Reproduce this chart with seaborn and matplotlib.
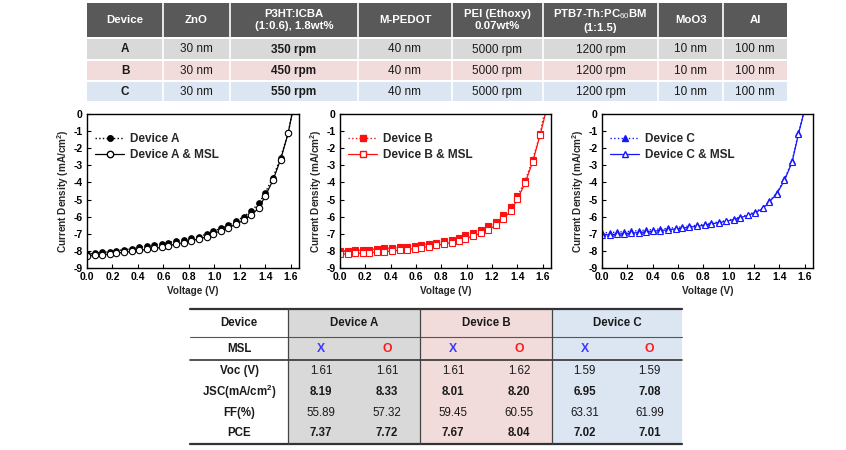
import matplotlib
matplotlib.use("Agg")
import matplotlib.pyplot as plt
import seaborn as sns
from matplotlib.patches import Rectangle
from matplotlib.lines import Line2D

# ---------------- data ----------------
top_headers = ["Device", "ZnO", "P3HT:ICBA\n(1:0.6), 1.8wt%", "M-PEDOT",
               "PEI (Ethoxy)\n0.07wt%", "PTB7-Th:PC$_{60}$BM\n(1:1.5)", "MoO3", "Al"]
top_devices = ["A", "B", "C"]
top_zno = ["30 nm", "30 nm", "30 nm"]
top_p3ht = ["350 rpm", "450 rpm", "550 rpm"]
top_mpedot = ["40 nm", "40 nm", "40 nm"]
top_pei = ["5000 rpm", "5000 rpm", "5000 rpm"]
top_ptb7 = ["1200 rpm", "1200 rpm", "1200 rpm"]
top_moo3 = ["10 nm", "10 nm", "10 nm"]
top_al = ["100 nm", "100 nm", "100 nm"]

bt_devices = ["Device A", "Device B", "Device C"]
bt_msl = ["X", "O", "X", "O", "X", "O"]
bt_rowlabels = ["Voc (V)", "JSC(mA/cm$^{\\mathbf{2}}$)", "FF(%)", "PCE"]
bt_voc = ["1.61", "1.61", "1.61", "1.62", "1.59", "1.59"]
bt_jsc = ["8.19", "8.33", "8.01", "8.20", "6.95", "7.08"]
bt_ff = ["55.89", "57.32", "59.45", "60.55", "63.31", "61.99"]
bt_pce = ["7.37", "7.72", "7.67", "8.04", "7.02", "7.01"]

v_ab = [0.00, 0.06, 0.12, 0.18, 0.23, 0.29, 0.35, 0.41, 0.47, 0.53, 0.59, 0.64, 0.70, 0.76,
        0.82, 0.88, 0.94, 0.99, 1.05, 1.11, 1.17, 1.23, 1.29, 1.35, 1.40, 1.46, 1.52, 1.58]
v_c = [0.00, 0.06, 0.12, 0.17, 0.23, 0.29, 0.35, 0.40, 0.46, 0.52, 0.58, 0.63, 0.69, 0.75,
       0.81, 0.86, 0.92, 0.98, 1.04, 1.09, 1.15, 1.21, 1.27, 1.32, 1.38, 1.44, 1.50, 1.55]

j_a = [-8.19, -8.15, -8.09, -8.05, -7.99, -7.93, -7.88, -7.80, -7.72, -7.64, -7.58, -7.51, -7.43, -7.35,
       -7.27, -7.16, -7.02, -6.85, -6.69, -6.50, -6.26, -6.01, -5.66, -5.23, -4.59, -3.72, -2.57, -1.10]
j_a_msl = [-8.31, -8.26, -8.22, -8.19, -8.13, -8.09, -8.03, -7.97, -7.91, -7.86, -7.78, -7.70, -7.60, -7.51,
           -7.41, -7.29, -7.18, -7.00, -6.83, -6.65, -6.44, -6.21, -5.91, -5.49, -4.79, -3.88, -2.67, -1.12]
j_b = [-8.01, -7.99, -7.97, -7.95, -7.92, -7.89, -7.86, -7.83, -7.79, -7.75, -7.70, -7.64, -7.58, -7.51,
       -7.43, -7.34, -7.23, -7.10, -6.96, -6.79, -6.57, -6.30, -5.93, -5.45, -4.80, -3.92, -2.68, -1.15]
j_b_msl = [-8.20, -8.17, -8.15, -8.13, -8.10, -8.07, -8.04, -8.00, -7.96, -7.92, -7.87, -7.81, -7.75, -7.68,
           -7.60, -7.51, -7.40, -7.28, -7.14, -6.97, -6.77, -6.50, -6.13, -5.64, -4.97, -4.05, -2.80, -1.20]
j_c = [-6.95, -6.93, -6.90, -6.88, -6.85, -6.82, -6.79, -6.75, -6.72, -6.68, -6.64, -6.60, -6.55, -6.50,
       -6.44, -6.38, -6.31, -6.23, -6.13, -6.02, -5.88, -5.72, -5.48, -5.10, -4.60, -3.82, -2.75, -1.12]
j_c_msl = [-7.08, -7.05, -7.02, -6.99, -6.96, -6.93, -6.89, -6.85, -6.81, -6.77, -6.72, -6.67, -6.62, -6.56,
           -6.50, -6.43, -6.35, -6.27, -6.17, -6.06, -5.93, -5.76, -5.52, -5.15, -4.65, -3.88, -2.80, -1.18]
voc_a, voc_a_msl = 1.61, 1.61
voc_b, voc_b_msl = 1.61, 1.62
voc_c, voc_c_msl = 1.59, 1.59

x_ticks = [0.0, 0.2, 0.4, 0.6, 0.8, 1.0, 1.2, 1.4, 1.6]
y_ticks = [0, -1, -2, -3, -4, -5, -6, -7, -8, -9]

# ---------------- style ----------------
sns.set_theme(style="white")
plt.rcParams['font.family'] = ['Liberation Sans', 'DejaVu Sans']
plt.rcParams['axes.unicode_minus'] = False
plt.rcParams['mathtext.fontset'] = 'custom'
plt.rcParams['mathtext.rm'] = 'Liberation Sans'
plt.rcParams['mathtext.bf'] = 'Liberation Sans:bold'

W, H = 846, 450
fig = plt.figure(figsize=(W / 100, H / 100), dpi=100)
fig.patch.set_facecolor('white')

# ---------------- tables (pixel-coordinate overlay) ----------------
tab = fig.add_axes([0, 0, 1, 1])
tab.set_xlim(0, W)
tab.set_ylim(H, 0)
tab.axis('off')

# top table
tcol = [87, 163, 230, 358, 452, 543, 658, 723, 787]
hdr_top, hdr_bot = 3, 37
row_edges = [(39, 59), (61, 80), (82, 101)]
row_colors = ['#d9d9d9', '#f2dcdb', '#dce6f2']
tab.add_patch(Rectangle((tcol[0], hdr_top), tcol[-1] - tcol[0], hdr_bot - hdr_top,
                        facecolor='#595959', edgecolor='none', zorder=1))
for i, h in enumerate(top_headers):
    cx = (tcol[i] + tcol[i + 1]) / 2
    tab.text(cx, (hdr_top + hdr_bot) / 2, h, ha='center', va='center', color='white',
             fontsize=8.2, fontweight='bold', linespacing=1.2, zorder=3)
cols_data = [top_devices, top_zno, top_p3ht, top_mpedot, top_pei, top_ptb7, top_moo3, top_al]
for r, (y0, y1) in enumerate(row_edges):
    tab.add_patch(Rectangle((tcol[0], y0), tcol[-1] - tcol[0], y1 - y0,
                            facecolor=row_colors[r], edgecolor='none', zorder=1))
    for c, col in enumerate(cols_data):
        cx = (tcol[c] + tcol[c + 1]) / 2
        bold = c in (0, 2)
        tab.text(cx, (y0 + y1) / 2 + 0.5, col[r], ha='center', va='center', color='#1a1a1a',
                 fontsize=8.5, fontweight='bold' if bold else 'normal', zorder=3)
for xe in tcol[1:-1]:
    tab.plot([xe, xe], [hdr_top, row_edges[-1][1]], color='white', lw=1.2, zorder=2)

# bottom table
bcol = [190, 288, 420, 552, 682]
b_top, b_hdr, b_msl, b_bot = 309, 337, 360, 444
b_rows_y = [371, 392, 413, 433]
grp_colors = ['#d9d9d9', '#f2dcdb', '#dce6f2']
for g in range(3):
    tab.add_patch(Rectangle((bcol[g + 1], b_top), bcol[g + 2] - bcol[g + 1], b_bot - b_top,
                            facecolor=grp_colors[g], edgecolor='none', zorder=1))
tab.plot([bcol[0], bcol[-1]], [b_top, b_top], color='#333333', lw=1.6, zorder=2)
tab.plot([bcol[0], bcol[-1]], [b_bot, b_bot], color='#333333', lw=1.6, zorder=2)
tab.plot([bcol[0], bcol[-1]], [b_hdr, b_hdr], color='#555555', lw=0.8, zorder=2)
tab.plot([bcol[0], bcol[-1]], [b_msl, b_msl], color='#333333', lw=1.2, zorder=2)
for xe in bcol[1:-1]:
    tab.plot([xe, xe], [b_top, b_bot], color='#444444', lw=0.9, zorder=2)

tab.text((bcol[0] + bcol[1]) / 2, (b_top + b_hdr) / 2, "Device", ha='center', va='center',
         fontsize=8.3, fontweight='bold', color='#1a1a1a', zorder=3)
tab.text((bcol[0] + bcol[1]) / 2, (b_hdr + b_msl) / 2, "MSL", ha='center', va='center',
         fontsize=8.3, fontweight='bold', color='#1a1a1a', zorder=3)
for g, name in enumerate(bt_devices):
    tab.text((bcol[g + 1] + bcol[g + 2]) / 2, (b_top + b_hdr) / 2, name, ha='center', va='center',
             fontsize=8.3, fontweight='bold', color='#1a1a1a', zorder=3)
sub_x = []
for g in range(3):
    w = bcol[g + 2] - bcol[g + 1]
    sub_x += [bcol[g + 1] + w * 0.25, bcol[g + 1] + w * 0.75]
for k, m in enumerate(bt_msl):
    tab.text(sub_x[k], (b_hdr + b_msl) / 2, m, ha='center', va='center', fontsize=8.8,
             fontweight='bold', color='#3a3aff' if m == "X" else '#ff1a1a', zorder=3)
row_vals = [bt_voc, bt_jsc, bt_ff, bt_pce]
row_bold = [False, True, False, True]
for r, lab in enumerate(bt_rowlabels):
    tab.text((bcol[0] + bcol[1]) / 2, b_rows_y[r], lab, ha='center', va='center',
             fontsize=8.3, fontweight='bold', color='#1a1a1a', zorder=3)
    for k, v in enumerate(row_vals[r]):
        tab.text(sub_x[k], b_rows_y[r], v, ha='center', va='center', fontsize=8.3,
                 fontweight='bold' if row_bold[r] else 'normal', color='#1a1a1a', zorder=3)

# ---------------- J-V plots ----------------
panels = [
    dict(left=87, right=299, v=v_ab, j=j_a, jm=j_a_msl, voc=voc_a, vocm=voc_a_msl,
         color='black', mk='o', name="Device A"),
    dict(left=340, right=551, v=v_ab, j=j_b, jm=j_b_msl, voc=voc_b, vocm=voc_b_msl,
         color='#ff1010', mk='s', name="Device B"),
    dict(left=602, right=813, v=v_c, j=j_c, jm=j_c_msl, voc=voc_c, vocm=voc_c_msl,
         color='#1515ff', mk='^', name="Device C"),
]
ax_top, ax_bot = 114, 268
for p in panels:
    ax = fig.add_axes([p['left'] / W, (H - ax_bot) / H, (p['right'] - p['left']) / W,
                       (ax_bot - ax_top) / H])
    ax.set_facecolor('white')
    n = len(p['v'])
    ms = 4.0 if p['mk'] != 's' else 3.8
    sns.lineplot(x=p['v'] + [p['voc']], y=p['j'] + [0.0], ax=ax, sort=False, color=p['color'],
                 linestyle=':', lw=1.0, marker=p['mk'], markersize=ms, markevery=list(range(n)),
                 markerfacecolor=p['color'], markeredgecolor=p['color'], markeredgewidth=0.8)
    sns.lineplot(x=p['v'] + [p['vocm']], y=p['jm'] + [0.0], ax=ax, sort=False, color=p['color'],
                 linestyle='-', lw=0.9, marker=p['mk'], markersize=ms + 0.6, markevery=list(range(n)),
                 markerfacecolor='white', markeredgecolor=p['color'], markeredgewidth=0.8)
    ax.set_xlim(0, 1.665)
    ax.set_ylim(-9, 0)
    ax.set_xticks(x_ticks)
    ax.set_xticklabels([f"{t:.1f}" for t in x_ticks])
    ax.set_yticks(y_ticks)
    ax.set_yticklabels([str(t) for t in y_ticks])
    ax.tick_params(axis='both', direction='in', length=3, width=0.8, labelsize=7.5,
                   pad=3, colors='black', left=True, bottom=True)
    for lab in ax.get_xticklabels() + ax.get_yticklabels():
        lab.set_fontweight('bold')
    for s in ax.spines.values():
        s.set_color('black')
        s.set_linewidth(1.0)
    ax.set_xlabel("Voltage (V)", fontsize=7.2, fontweight='bold', labelpad=3)
    ax.set_ylabel("Current Density (mA/cm$^{\\mathbf{2}}$)", fontsize=7.2, fontweight='bold',
                  labelpad=2)
    h1 = Line2D([], [], color=p['color'], linestyle=':', lw=1.0, marker=p['mk'], markersize=ms,
                markerfacecolor=p['color'], markeredgecolor=p['color'])
    h2 = Line2D([], [], color=p['color'], linestyle='-', lw=0.9, marker=p['mk'], markersize=ms + 0.6,
                markerfacecolor='white', markeredgecolor=p['color'])
    ax.legend([h1, h2], [p['name'], p['name'] + " & MSL"], loc='upper left',
              bbox_to_anchor=(0.04, 0.875), frameon=False, borderpad=0, borderaxespad=0,
              handlelength=2.4, handletextpad=0.5, labelspacing=0.35,
              prop={'size': 8.5, 'weight': 'bold'}, markerscale=1.0)

fig.savefig("out.png", dpi=100, facecolor='white')
